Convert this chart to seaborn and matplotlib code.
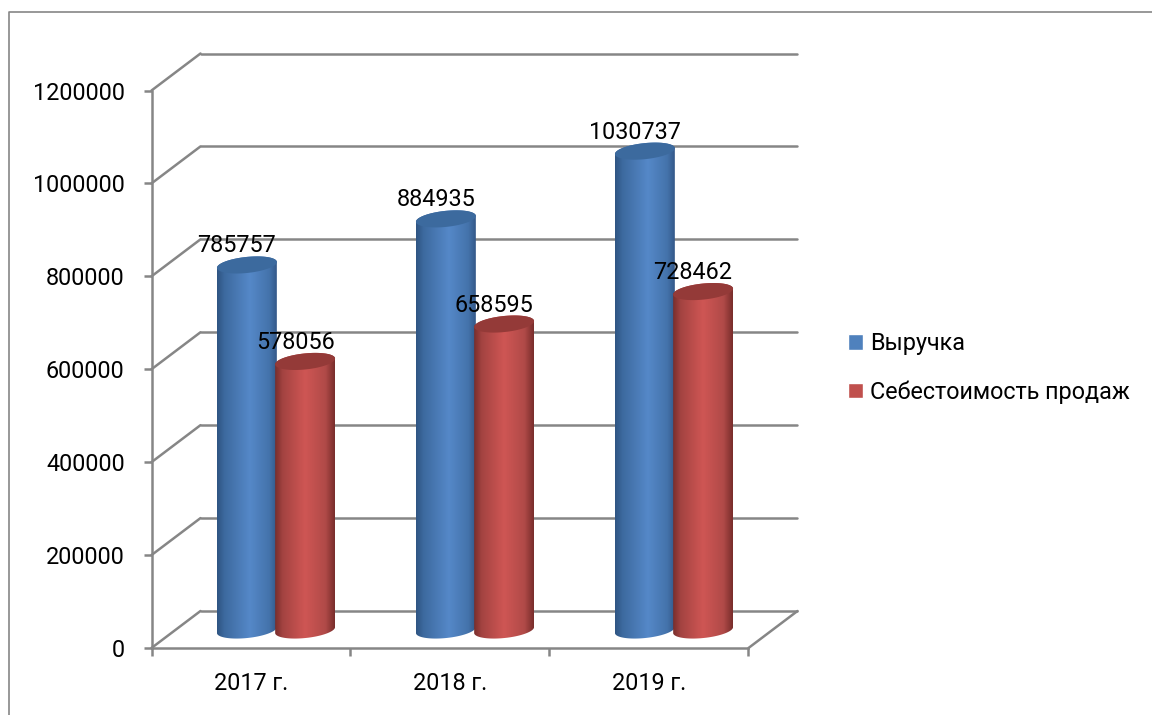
import numpy as np
import pandas as pd
import matplotlib
matplotlib.use('Agg')
import matplotlib.pyplot as plt
import seaborn as sns
from matplotlib.colors import LinearSegmentedColormap
from matplotlib.lines import Line2D
from matplotlib.patches import Polygon

years = ['2017 г.', '2018 г.', '2019 г.']
revenue = [785757, 884935, 1030737]
cost = [578056, 658595, 728462]
series_names = ['Выручка', 'Себестоимость продаж']
yticks = [0, 200000, 400000, 600000, 800000, 1000000, 1200000]

df = pd.DataFrame({
    'year': years * 2,
    'value': revenue + cost,
    'series': [series_names[0]] * 3 + [series_names[1]] * 3,
})

sns.set_theme(style='white')
plt.rcParams['font.family'] = ['Roboto', 'Noto Sans', 'DejaVu Sans']

grey = '#868686'
lw = 1.8
fs = 16.8
tilt = np.deg2rad(6)

fig = plt.figure(figsize=(11.52, 7.15), dpi=100)
ax = fig.add_axes([151.5 / 1152, 67 / 715, 597 / 1152, 557.5 / 715])

sns.barplot(data=df, x='year', y='value', hue='series', palette=['#4f81bd', '#c0504d'],
            width=0.585, gap=0, saturation=1, ax=ax)

ax.set_xlim(-0.5, 2.5)
ax.set_ylim(0, 1200000)
px_x = 597 / 3
px_y = 557.5 / 1200000

# 3d look: back wall and the bars are moved in data units
depth_x = 49 / px_x
depth_y = 37 / px_y
bar_dx = 25 / px_x
bar_dy = 18 / px_y

for v in yticks:
    ax.plot([-0.5, -0.5 + depth_x], [v, v + depth_y], color=grey, lw=lw, clip_on=False, zorder=1)
    ax.plot([-0.5 + depth_x, 2.5 + depth_x], [v + depth_y, v + depth_y], color=grey, lw=lw,
            clip_on=False, zorder=1)
ax.plot([2.5, 2.5 + depth_x], [0, depth_y], color=grey, lw=lw, clip_on=False, zorder=1)


def ellipse(cx, cy, half_w, half_h=8, start=0, end=2 * np.pi):
    t = np.linspace(start, end, 120)
    ex = half_w * np.cos(t)
    ey = half_h * np.sin(t)
    return np.column_stack([cx + (ex * np.cos(tilt) - ey * np.sin(tilt)) / px_x,
                            cy + (ex * np.sin(tilt) + ey * np.cos(tilt)) / px_y])


blue_map = LinearSegmentedColormap.from_list('b', [(0, '#2f5583'), (0.12, '#3d6a9f'), (0.55, '#5588c8'),
                                                   (0.88, '#4473ab'), (1, '#34598a')])
red_map = LinearSegmentedColormap.from_list('r', [(0, '#7a2e2c'), (0.12, '#a34341'), (0.5, '#cf5654'),
                                                  (0.85, '#b04a48'), (1, '#7a2e2c')])
top_colors = ['#3c6a9e', '#943a38']

for i, bar in enumerate(ax.patches[:6]):
    s = i // 3
    x0 = bar.get_x() + bar_dx
    w = bar.get_width()
    h = bar.get_height()
    cx = x0 + w / 2
    half_w = w * px_x / 2 + 1
    z = 2 + s

    bar.set_visible(False)
    top_y = h + bar_dy
    # lower half of the base, then the two ends of the top ellipse
    lower = ellipse(cx, bar_dy, half_w, start=np.pi, end=2 * np.pi)
    upper = ellipse(cx, top_y, half_w, start=0, end=np.pi)
    shape = np.vstack([lower, upper])
    clip = Polygon(shape, closed=True, transform=ax.transData, fill=False, edgecolor='none')
    ax.add_patch(clip)
    im = ax.imshow(np.linspace(0, 1, 64)[None, :], cmap=[blue_map, red_map][s], aspect='auto',
                   extent=(shape[:, 0].min(), shape[:, 0].max(), -20000, top_y + 40000),
                   zorder=z, interpolation='bilinear')
    im.set_clip_path(clip)
    ax.fill(*ellipse(cx, top_y, half_w).T, color=top_colors[s], lw=0, zorder=z + 0.1)

    ax.annotate(f'{int(h)}', xy=(cx, h), xytext=(-10, 37), textcoords='offset pixels',
                ha='center', va='center', fontsize=fs, color='black', zorder=6,
                annotation_clip=False)

ax.set_xlim(-0.5, 2.5)
ax.set_ylim(0, 1200000)

ax.set_xlabel('')
ax.set_ylabel('')
ax.set_yticks(yticks)
ax.set_yticklabels([str(v) for v in yticks], fontsize=fs, color='black')
ax.set_xticks(range(3))
ax.set_xticklabels(years, fontsize=fs, color='black')
ax.set_xticks([-0.5, 0.5, 1.5, 2.5], minor=True)
ax.tick_params(axis='y', left=True, length=5.8, width=lw, color=grey, pad=13.5)
ax.tick_params(axis='x', which='major', bottom=False, length=0, pad=17.5)
ax.tick_params(axis='x', which='minor', bottom=True, length=5.8, width=lw, color=grey)
sns.despine(ax=ax)
ax.spines['left'].set_color(grey)
ax.spines['bottom'].set_color(grey)
ax.spines['left'].set_linewidth(lw)
ax.spines['bottom'].set_linewidth(lw)
ax.patch.set_alpha(0)

sns.move_legend(ax, 'center left', bbox_to_anchor=(848 / 1152, 1 - 368 / 715),
                bbox_transform=fig.transFigure, title=None, frameon=False, fontsize=fs,
                handlelength=0.64, handleheight=0.64, handletextpad=0.3, labelspacing=1.09,
                borderpad=0, borderaxespad=0)
for t in ax.get_legend().get_texts():
    t.set_color('black')

# outer chart frame, cut by the picture edge
fig.add_artist(Line2D([9 / 1152, 9 / 1152, 1], [0, 1 - 12 / 715, 1 - 12 / 715], color=grey, lw=1.2))

fig.savefig('out.png', dpi=100)
